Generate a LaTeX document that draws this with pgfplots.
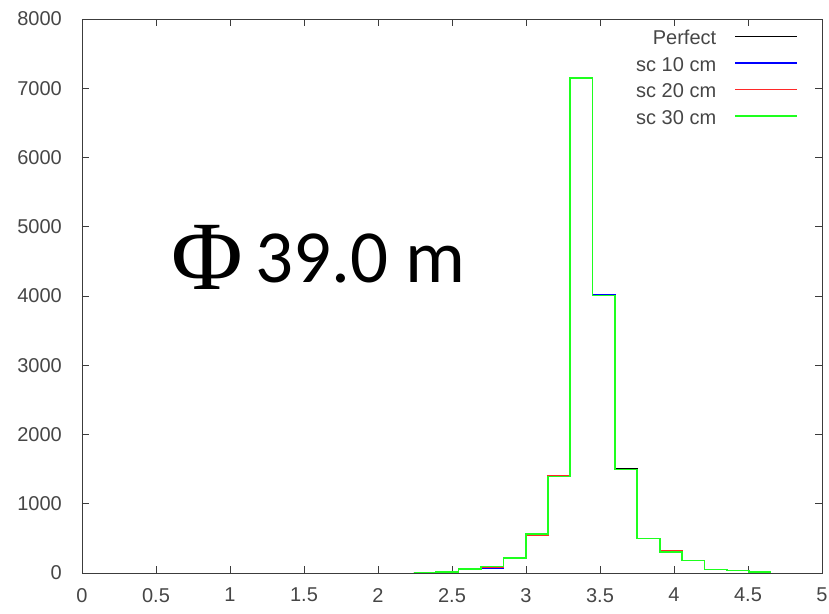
\documentclass[border=0pt]{standalone}
\usepackage{pgfplots}
\pgfplotsset{compat=1.18}
\usepackage{fontspec}
\setmainfont{Liberation Sans}
\newfontfamily\phifont{Liberation Serif}
\newfontfamily\carlito{Carlito}
\definecolor{axgray}{RGB}{60,60,60}
\definecolor{txtgray}{RGB}{70,70,70}
\definecolor{gpblue}{RGB}{0,0,255}
\definecolor{gpred}{RGB}{255,40,40}
\definecolor{gpgreen}{RGB}{30,255,30}

\pgfplotstableread{
x y
2.24 10
2.39 12
2.545 55
2.695 90
2.848 216
3.0 567
3.148 1395
3.298 7148
3.45 4009
3.6 1510
3.75 500
3.905 303
4.055 178
4.205 53
4.357 36
4.507 14
4.657 14
}\perfect

\pgfplotstableread{
x y
2.24 10
2.39 12
2.545 55
2.695 76
2.848 216
3.0 567
3.148 1395
3.298 7148
3.45 4020
3.6 1492
3.75 500
3.905 303
4.055 178
4.205 53
4.357 36
4.507 14
4.657 14
}\scten

\pgfplotstableread{
x y
2.24 10
2.39 12
2.545 55
2.695 90
2.848 216
3.0 543
3.148 1410
3.298 7148
3.45 4009
3.6 1492
3.75 500
3.905 322
4.055 178
4.205 53
4.357 36
4.507 14
4.657 14
}\sctwenty

\pgfplotstableread{
x y
2.24 10
2.39 12
2.545 55
2.695 95
2.848 216
3.0 567
3.148 1395
3.298 7148
3.45 4009
3.6 1492
3.75 500
3.905 303
4.055 178
4.205 53
4.357 36
4.507 14
4.657 14
}\scthirty

\begin{document}
\begin{tikzpicture}
\useasboundingbox (-82pt,-40pt) rectangle (747pt,573pt);
\begin{axis}[
  at={(0pt,0pt)}, anchor=south west,
  scale only axis, width=740pt, height=554pt,
  xmin=0, xmax=5, ymin=0, ymax=8000,
  xtick={0,0.5,...,5}, ytick={0,1000,...,8000},
  tick align=inside, major tick length=7pt,
  axis line style={axgray, line width=0.8pt},
  tick style={axgray, line width=0.8pt},
  ticklabel style={font=\fontsize{20}{20}\selectfont, text=txtgray},
  /pgf/number format/assume math mode=true,
  /pgf/number format/1000 sep={},
  yticklabel style={inner sep=0pt, xshift=-20pt},
  xticklabel style={inner sep=0pt, yshift=-15pt},
  legend plot pos=right,
  legend cell align=right,
  legend style={draw=none, fill=none, at={(1,1)}, anchor=north east,
    xshift=-21pt, yshift=-9pt, font=\fontsize{20}{20}\selectfont, text=txtgray,
    column sep=18pt, row sep=8pt,
    nodes={inner sep=0pt, text height=14.5pt, text depth=4pt}},
  legend image code/.code={\draw[#1] (0pt,3pt) -- (62pt,3pt);},
  const plot,
]
\addplot[black, line width=1.6pt] table {\perfect};
\addlegendentry{Perfect}
\addplot[gpblue, line width=1.6pt] table {\scten};
\addlegendentry{sc 10 cm}
\addplot[gpred, line width=1.6pt] table {\sctwenty};
\addlegendentry{sc 20 cm}
\addplot[gpgreen, line width=1.6pt] table {\scthirty};
\addlegendentry{sc 30 cm}
\node[anchor=base west, inner sep=0pt, font=\phifont\fontsize{98}{98}\selectfont] at (axis cs:0.60,4087) {Φ};
\node[anchor=base west, inner sep=0pt, font=\carlito\fontsize{75}{75}\selectfont] at (axis cs:1.17,4202) {39.0 m};
\end{axis}
\end{tikzpicture}
\end{document}
